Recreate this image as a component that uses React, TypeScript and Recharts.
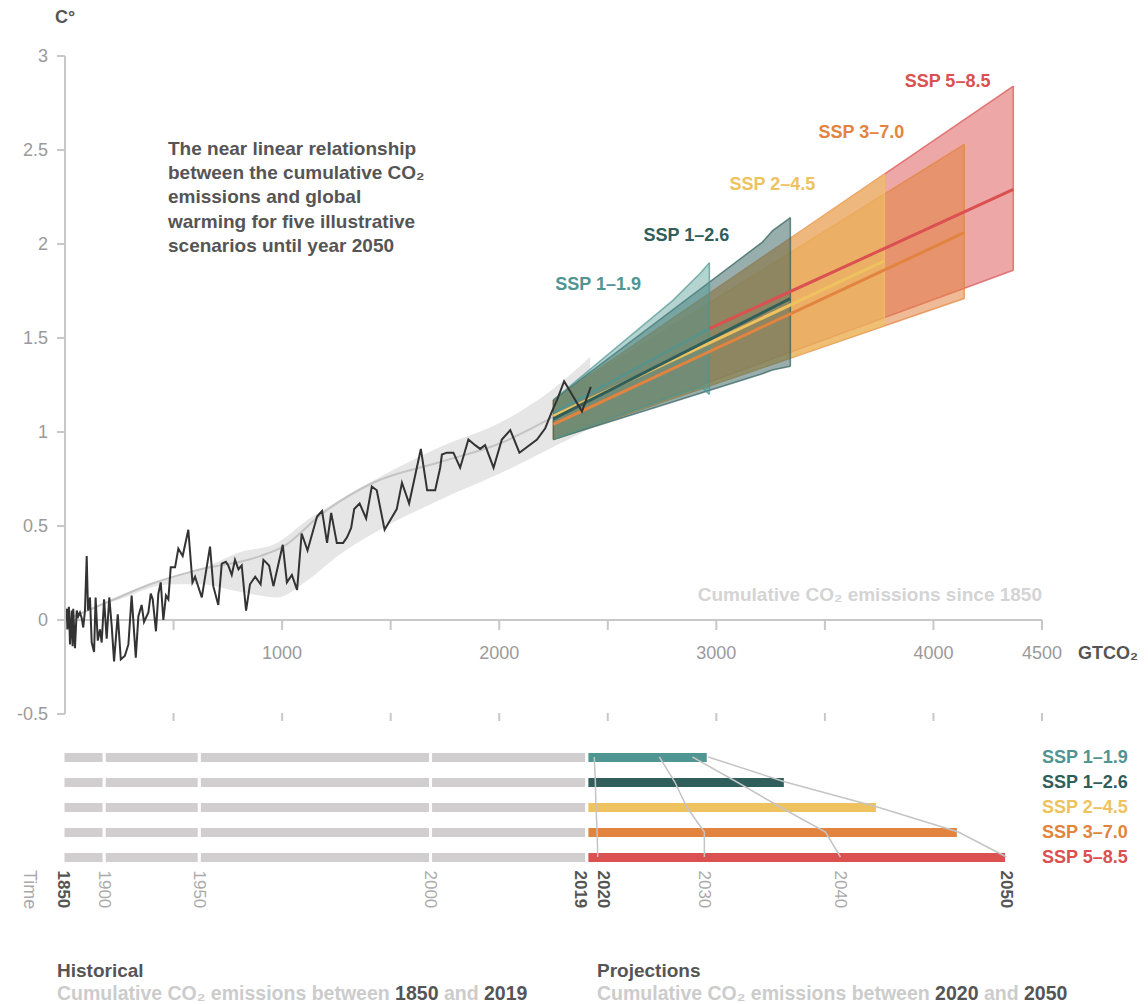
import React from 'react';
import {
  ComposedChart, Area, Line, XAxis, YAxis, ReferenceLine, ReferenceDot, Bar, Cell,
} from 'recharts';

const FONT = '"Liberation Sans", Arial, Helvetica, sans-serif';
const DARK = '#555555';
const AXIS = '#c8c8c8';
const TICK_TXT = '#9a9a9a';

// ---------- Main chart data ----------
const histCum = [0, 8, 11, 18, 23, 31, 35, 38, 46, 54, 61, 69, 77, 84, 92, 100, 106, 115, 123, 134, 141, 151, 161, 169, 180, 192, 204, 215, 226, 243, 257, 276, 292, 307, 326, 338, 353, 364, 384, 395, 404, 419, 430, 441, 453, 465, 476, 487, 507, 522, 542, 568, 587, 599, 630, 668, 683, 706, 722, 741, 752, 768, 783, 799, 814, 834, 852, 876, 901, 914, 940, 960, 1003, 1022, 1045, 1069, 1090, 1117, 1161, 1184, 1207, 1226, 1252, 1281, 1299, 1318, 1332, 1357, 1387, 1413, 1436, 1472, 1528, 1552, 1585, 1639, 1668, 1705, 1728, 1736, 1759, 1789, 1820, 1858, 1889, 1912, 1935, 1974, 2012, 2051, 2093, 2174, 2212, 2243, 2266, 2299, 2381, 2422];
const histTemp = [0, 0.06, -0.05, 0.07, -0.13, 0.05, -0.14, 0.06, -0.15, 0.05, 0.02, 0.04, 0.01, -0.04, 0.05, 0.34, 0.05, 0.12, -0.12, -0.17, 0.12, -0.11, -0.05, -0.12, 0.11, -0.10, 0.12, -0.03, -0.22, 0.03, -0.21, -0.19, -0.13, 0.13, -0.20, 0.02, 0.08, -0.01, 0.04, 0.14, 0.11, -0.06, 0.14, 0.20, 0.00, 0.13, 0.11, 0.28, 0.28, 0.38, 0.34, 0.48, 0.20, 0.23, 0.12, 0.39, 0.18, 0.08, 0.30, 0.31, 0.29, 0.24, 0.32, 0.27, 0.29, 0.05, 0.19, 0.23, 0.19, 0.32, 0.29, 0.18, 0.40, 0.20, 0.24, 0.16, 0.46, 0.37, 0.55, 0.58, 0.41, 0.57, 0.41, 0.41, 0.44, 0.49, 0.59, 0.62, 0.54, 0.71, 0.69, 0.48, 0.59, 0.73, 0.62, 0.91, 0.69, 0.69, 0.81, 0.88, 0.89, 0.89, 0.81, 0.96, 0.93, 0.91, 0.93, 0.81, 0.96, 1.01, 0.89, 0.96, 1.02, 1.11, 1.17, 1.27, 1.11, 1.24];

const smoothCum = [0, 207, 392, 590, 899, 1005, 1189, 1419, 1728, 2005, 2249];
const smoothTemp = [0, 0.10, 0.19, 0.26, 0.34, 0.39, 0.57, 0.73, 0.84, 0.94, 1.08];

const bandCum = [0, 253, 484, 622, 806, 977, 1115, 1267, 1465, 1728, 2005, 2249, 2419];
const bandLow = [0, 0.11, 0.19, 0.19, 0.15, 0.12, 0.21, 0.35, 0.49, 0.64, 0.78, 0.92, 1.02];
const bandHigh = [0, 0.13, 0.23, 0.27, 0.36, 0.41, 0.53, 0.64, 0.77, 0.92, 1.05, 1.23, 1.40];

const scenarios = ['SSP 1–1.9', 'SSP 1–2.6', 'SSP 2–4.5', 'SSP 3–7.0', 'SSP 5–8.5'];
const scenarioColors = ['#4f9591', '#2f5e5b', '#efc260', '#e2843f', '#db5050'];
const coneOpacity = [0.42, 0.5, 0.6, 0.55, 0.5];

// cones (cumulative GtCO2, low / high warming)
const coneSSP119Cum = [2249, 2800, 2930, 2968];
const coneSSP119Low = [0.96, 1.19, 1.24, 1.20];
const coneSSP119High = [1.17, 1.70, 1.85, 1.90];
const coneSSP126Cum = [2249, 3212, 3258, 3341];
const coneSSP126Low = [0.96, 1.31, 1.33, 1.35];
const coneSSP126High = [1.17, 2.01, 2.07, 2.14];
const coneSSP245Cum = [2249, 3774];
const coneSSP245Low = [0.96, 1.57];
const coneSSP245High = [1.17, 2.37];
const coneSSP370Cum = [2249, 4142];
const coneSSP370Low = [0.96, 1.71];
const coneSSP370High = [1.17, 2.53];
const coneSSP585Cum = [2249, 4368];
const coneSSP585Low = [0.96, 1.86];
const coneSSP585High = [1.17, 2.84];

// central lines
const lineSSP119Cum = [2249, 2968];
const lineSSP119Temp = [1.10, 1.55];
const lineSSP126Cum = [2249, 3341];
const lineSSP126Temp = [1.07, 1.71];
const lineSSP245Cum = [2249, 3774];
const lineSSP245Temp = [1.085, 1.91];
const lineSSP370Cum = [2249, 4142];
const lineSSP370Temp = [1.04, 2.06];
const lineSSP585Cum = [2968, 4368];
const lineSSP585Temp = [1.55, 2.29];

const labelCum = [2456, 2862, 3258, 3668, 4065];
const labelTemp = [1.79, 2.05, 2.32, 2.60, 2.87];

const xTicks = [500, 1000, 1500, 2000, 2500, 3000, 3500, 4000, 4500];
const xLabeled = [1000, 2000, 3000, 4000, 4500];
const yTicks = [-0.5, 0, 0.5, 1, 1.5, 2, 2.5, 3];
const Y_MIN = -0.5;
const Y_MAX = 3;

const titleLines = [
  'The near linear relationship',
  'between the cumulative CO₂',
  'emissions and global',
  'warming for five illustrative',
  'scenarios until year 2050',
];

// ---------- Timeline data ----------
const yearMarksCum = [0, 190, 628, 1693, 2413];
const cum2020 = [2447, 2452, 2455, 2460, 2463];
const cum2030 = [2747, 2818, 2873, 2954, 2954];
const cum2040 = [2899, 3104, 3303, 3512, 3581];
const cum2050 = [2972, 3327, 3751, 4124, 4346];
const timeTickCum = [0, 190, 628, 1693, 2413, 2463, 2954, 3581, 4346];
const timeTickLabels = ['1850', '1900', '1950', '2000', '2019', '2020', '2030', '2040', '2050'];
const timeTickBold = [true, false, false, false, true, true, false, false, true];

// ---------- build tables ----------
const pts = (xs: number[], ys: number[]) => xs.map((x, i) => ({ x, y: ys[i] }));
const rng = (xs: number[], lo: number[], hi: number[]) => xs.map((x, i) => ({ x, r: [lo[i], hi[i]] }));

const histData = pts(histCum, histTemp);
const smoothData = pts(smoothCum, smoothTemp);
const bandData = rng(bandCum, bandLow, bandHigh);
const coneCums = [coneSSP119Cum, coneSSP126Cum, coneSSP245Cum, coneSSP370Cum, coneSSP585Cum];
const coneLows = [coneSSP119Low, coneSSP126Low, coneSSP245Low, coneSSP370Low, coneSSP585Low];
const coneHighs = [coneSSP119High, coneSSP126High, coneSSP245High, coneSSP370High, coneSSP585High];
const cones = coneCums.map((c, i) => rng(c, coneLows[i], coneHighs[i]));
const centrals = [
  pts(lineSSP119Cum, lineSSP119Temp),
  pts(lineSSP126Cum, lineSSP126Temp),
  pts(lineSSP245Cum, lineSSP245Temp),
  pts(lineSSP370Cum, lineSSP370Temp),
  pts(lineSSP585Cum, lineSSP585Temp),
];

const bottomData = scenarios.map((name, i) => ({
  name,
  h1: yearMarksCum[1] - yearMarksCum[0],
  h2: yearMarksCum[2] - yearMarksCum[1],
  h3: yearMarksCum[3] - yearMarksCum[2],
  h4: yearMarksCum[4] - yearMarksCum[3],
  proj: cum2050[i] - yearMarksCum[4],
  y2020: cum2020[i],
  y2030: cum2030[i],
  y2040: cum2040[i],
  y2050: cum2050[i],
}));

// ---------- layout ----------
const MAIN_W = 1148;
const MAIN_H = 740;
const M_TOP = 56;
const M_PLOT_BOTTOM = 714;
const PLOT_H = M_PLOT_BOTTOM - M_TOP;
const ZERO_OFFSET = (PLOT_H * (0 - Y_MIN)) / (Y_MAX - Y_MIN);

const MainXTick = (props: any) => {
  const { x, y, payload } = props;
  const zeroY = y - ZERO_OFFSET;
  return (
    <g>
      <line x1={x} x2={x} y1={y - 1} y2={y + 7} stroke={AXIS} strokeWidth={2} />
      <line x1={x} x2={x} y1={zeroY} y2={zeroY + 10} stroke={AXIS} strokeWidth={2} />
      {xLabeled.includes(payload.value) && (
        <text x={x} y={zeroY + 38.5} textAnchor="middle" fill={TICK_TXT} fontSize={18} fontFamily={FONT}>
          {payload.value}
        </text>
      )}
    </g>
  );
};

const TimeTick = (props: any) => {
  const { x, y, payload } = props;
  const i = timeTickCum.indexOf(payload.value);
  if (i < 0) return null;
  const shift = i === 4 ? -6 : i === 5 ? 6 : 0;
  const cx = x + shift;
  const cy = y + 1;
  return (
    <text
      x={cx}
      y={cy}
      transform={`rotate(90, ${cx}, ${cy})`}
      dominantBaseline="central"
      textAnchor="start"
      fill={timeTickBold[i] ? DARK : '#aaaaaa'}
      fontWeight={timeTickBold[i] ? 700 : 400}
      fontSize={17}
      fontFamily={FONT}
    >
      {timeTickLabels[i]}
    </text>
  );
};

const RightTick = (props: any) => {
  const { x, y, payload } = props;
  const i = scenarios.indexOf(payload.value);
  return (
    <text x={x} y={y} dominantBaseline="central" textAnchor="start" fill={scenarioColors[i]} fontSize={18} fontWeight={700} fontFamily={FONT}>
      {payload.value}
    </text>
  );
};

const GRAY_BAR = '#d0cece';

export default function App() {
  const coneOrder = [4, 3, 2, 1, 0];
  const lineOrder = [3, 2, 1, 0, 4];
  return (
    <div style={{ position: 'absolute', left: 0, top: 0, width: 1148, height: 1004, background: '#fff', fontFamily: FONT }}>
      <div style={{ position: 'absolute', left: 0, top: 0 }}>
        <ComposedChart width={MAIN_W} height={MAIN_H} margin={{ top: M_TOP, right: 106, bottom: 6, left: 8 }} style={{ fontFamily: FONT }}>
          <XAxis
            dataKey="x"
            type="number"
            domain={[0, 4500]}
            ticks={xTicks}
            interval={0}
            allowDataOverflow
            axisLine={false}
            tickLine={false}
            tickSize={0}
            tickMargin={0}
            height={20}
            tick={<MainXTick />}
          />
          <YAxis
            type="number"
            domain={[Y_MIN, Y_MAX]}
            ticks={yTicks}
            interval={0}
            allowDataOverflow
            width={57}
            axisLine={{ stroke: AXIS, strokeWidth: 2 }}
            tickLine={{ stroke: AXIS, strokeWidth: 2 }}
            tickSize={8}
            tickMargin={9}
            tick={{ fill: TICK_TXT, fontSize: 18, fontFamily: FONT }}
          />
          <ReferenceLine y={0} stroke={AXIS} strokeWidth={2} />
          <Area
            data={bandData}
            dataKey="r"
            type="monotone"
            fill="#e6e6e6"
            fillOpacity={1}
            stroke="none"
            isAnimationActive={false}
          />
          {coneOrder.map((i) => (
            <Area
              key={'cone' + i}
              data={cones[i]}
              dataKey="r"
              type="linear"
              fill={scenarioColors[i]}
              fillOpacity={coneOpacity[i]}
              stroke={scenarioColors[i]}
              strokeOpacity={0.7}
              strokeWidth={1.5}
              isAnimationActive={false}
            />
          ))}
          {coneOrder.map((i) => {
            const n = coneCums[i].length - 1;
            return (
              <ReferenceLine
                key={'edge' + i}
                segment={[
                  { x: coneCums[i][n], y: coneLows[i][n] },
                  { x: coneCums[i][n], y: coneHighs[i][n] },
                ]}
                stroke={scenarioColors[i]}
                strokeOpacity={0.7}
                strokeWidth={1.5}
              />
            );
          })}
          <ReferenceLine
            segment={[
              { x: coneSSP126Cum[0], y: coneSSP126Low[0] },
              { x: coneSSP126Cum[0], y: coneSSP126High[0] },
            ]}
            stroke="#5a5a3c"
            strokeOpacity={0.8}
            strokeWidth={1.5}
          />
          <Line data={smoothData} dataKey="y" type="monotone" stroke="#c4c4c4" strokeWidth={2} dot={false} isAnimationActive={false} />
          {lineOrder.map((i) => (
            <Line
              key={'ln' + i}
              data={centrals[i]}
              dataKey="y"
              type="linear"
              stroke={scenarioColors[i]}
              strokeWidth={i === 0 ? 2 : 3}
              dot={false}
              isAnimationActive={false}
            />
          ))}
          <Line data={histData} dataKey="y" type="linear" stroke="#333333" strokeWidth={2} dot={false} isAnimationActive={false} />
          {scenarios.map((s, i) => (
            <ReferenceDot
              key={'lab' + i}
              x={labelCum[i]}
              y={labelTemp[i]}
              r={0}
              fill="none"
              stroke="none"
              label={{ value: s, position: 'center', fill: scenarioColors[i], fontSize: 18, fontWeight: 700, fontFamily: FONT }}
            />
          ))}
        </ComposedChart>
      </div>

      <div style={{ position: 'absolute', left: 0, top: 730 }}>
        <ComposedChart
          layout="vertical"
          width={1148}
          height={200}
          data={bottomData}
          margin={{ top: 14.5, right: 8, bottom: 15.5, left: 63 }}
          barCategoryGap={0}
          style={{ fontFamily: FONT }}
        >
          <XAxis
            type="number"
            domain={[0, 4500]}
            ticks={timeTickCum}
            interval={0}
            allowDataOverflow
            axisLine={false}
            tickLine={false}
            tickSize={0}
            tickMargin={0}
            height={45}
            tick={<TimeTick />}
          />
          <YAxis
            type="category"
            dataKey="name"
            orientation="right"
            width={100}
            axisLine={false}
            tickLine={false}
            tickSize={0}
            tickMargin={2}
            interval={0}
            tick={<RightTick />}
          />
          <Bar dataKey="h1" stackId="t" fill={GRAY_BAR} stroke="#fff" strokeWidth={3} barSize={12} isAnimationActive={false} />
          <Bar dataKey="h2" stackId="t" fill={GRAY_BAR} stroke="#fff" strokeWidth={3} barSize={12} isAnimationActive={false} />
          <Bar dataKey="h3" stackId="t" fill={GRAY_BAR} stroke="#fff" strokeWidth={3} barSize={12} isAnimationActive={false} />
          <Bar dataKey="h4" stackId="t" fill={GRAY_BAR} stroke="#fff" strokeWidth={3} barSize={12} isAnimationActive={false} />
          <Bar dataKey="proj" stackId="t" stroke="#fff" strokeWidth={3} barSize={12} isAnimationActive={false}>
            {bottomData.map((d, i) => (
              <Cell key={d.name} fill={scenarioColors[i]} />
            ))}
          </Bar>
          {['y2020', 'y2030', 'y2040', 'y2050'].map((k) => (
            <Line key={k} dataKey={k} type="linear" stroke="#c4c4c4" strokeWidth={1.5} dot={false} isAnimationActive={false} />
          ))}
        </ComposedChart>
      </div>

      <svg width={1148} height={1004} style={{ position: 'absolute', left: 0, top: 0, pointerEvents: 'none' }}>
        <text x={55} y={23} fill={DARK} fontSize={18} fontWeight={700} fontFamily={FONT}>C°</text>
        {titleLines.map((t, i) => (
          <text key={i} x={168} y={155 + i * 24.2} fill={DARK} fontSize={19} fontWeight={700} fontFamily={FONT}>{t}</text>
        ))}
        <text x={1042} y={601} textAnchor="end" fill="#d4d4d4" fontSize={19} fontWeight={700} fontFamily={FONT}>Cumulative CO₂ emissions since 1850</text>
        <text x={1078} y={659} fill={DARK} fontSize={18} fontWeight={700} fontFamily={FONT}>GTCO₂</text>
        <text x={30} y={870} transform="rotate(90, 30, 870)" dominantBaseline="central" fill="#aaaaaa" fontSize={18} fontFamily={FONT}>Time</text>
        <text x={57} y={977} fill={DARK} fontSize={19} fontWeight={700} fontFamily={FONT}>Historical</text>
        <text x={57} y={1000} fill="#cccccc" fontSize={19.5} fontWeight={700} fontFamily={FONT}>
          Cumulative CO₂ emissions between <tspan fill={DARK}>1850</tspan> and <tspan fill={DARK}>2019</tspan>
        </text>
        <text x={597} y={977} fill={DARK} fontSize={19} fontWeight={700} fontFamily={FONT}>Projections</text>
        <text x={597} y={1000} fill="#cccccc" fontSize={19.5} fontWeight={700} fontFamily={FONT}>
          Cumulative CO₂ emissions between <tspan fill={DARK}>2020</tspan> and <tspan fill={DARK}>2050</tspan>
        </text>
      </svg>
    </div>
  );
}
